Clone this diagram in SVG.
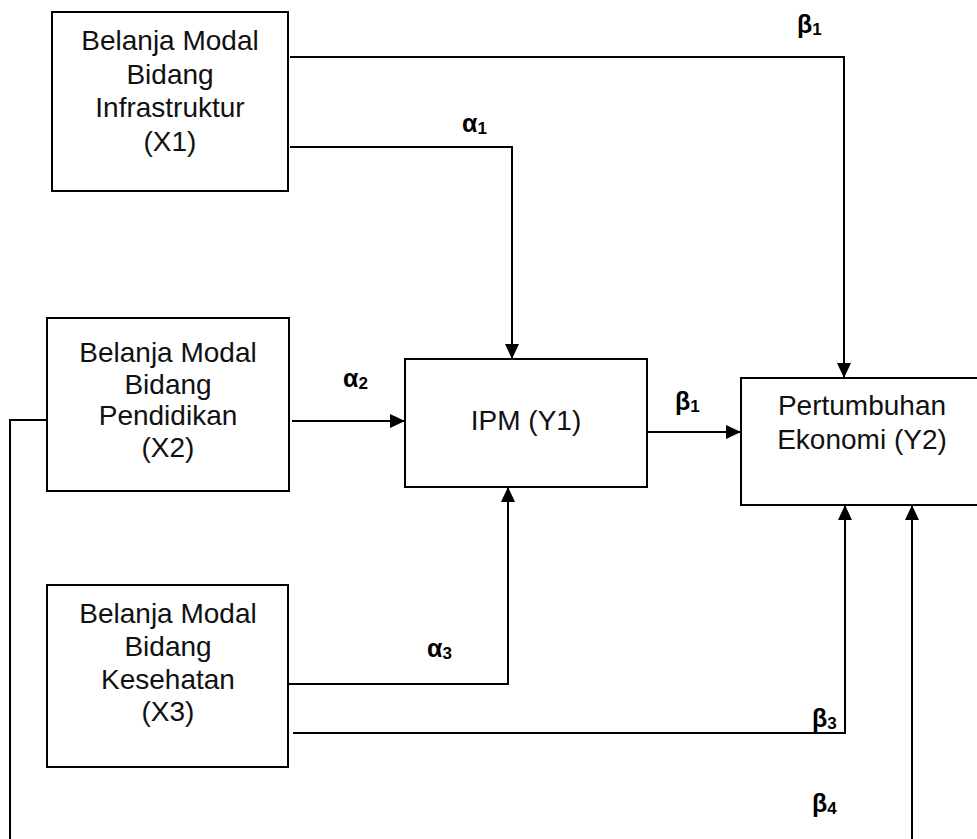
<svg xmlns="http://www.w3.org/2000/svg" width="977" height="839" viewBox="0 0 977 839">
<style>
.box{fill:#fff;stroke:#000;stroke-width:2}
.t{font-family:"Liberation Sans",Arial,sans-serif;font-size:28px;fill:#111;text-anchor:middle}
.c{fill:none;stroke:#000;stroke-width:2}
.lab{font-family:"Liberation Sans",Arial,sans-serif;font-size:25px;font-weight:bold;fill:#000}
.sub{font-size:17px}
</style>
<defs>
<marker id="ah" markerUnits="userSpaceOnUse" markerWidth="15" markerHeight="14" refX="15" refY="7" orient="auto">
<path d="M0,0 L15,7 L0,14 z" fill="#000"/>
</marker>
</defs>
<rect width="977" height="839" fill="#fff"/>
<g id="connectors">
<path class="c" d="M290,57 H844 V378" marker-end="url(#ah)"/>
<path class="c" d="M290,147 H512 V359" marker-end="url(#ah)"/>
<path class="c" d="M292,421 H405" marker-end="url(#ah)"/>
<path class="c" d="M643,432 H741" marker-end="url(#ah)"/>
<path class="c" d="M288,684 H508 V487" marker-end="url(#ah)"/>
<path class="c" d="M293,733 H845 V505" marker-end="url(#ah)"/>
<path class="c" d="M47,420 H10 V845"/>
<path class="c" d="M912,845 V505" marker-end="url(#ah)"/>
</g>
<g id="labels">
<text class="lab" x="797" y="33">β<tspan class="sub" dy="2">1</tspan></text>
<text class="lab" x="462" y="132">α<tspan class="sub" dy="2">1</tspan></text>
<text class="lab" x="343" y="387">α<tspan class="sub" dy="2">2</tspan></text>
<text class="lab" x="675" y="410">β<tspan class="sub" dy="2">1</tspan></text>
<text class="lab" x="427" y="657">α<tspan class="sub" dy="2">3</tspan></text>
<text class="lab" x="812" y="727">β<tspan class="sub" dy="2">3</tspan></text>
<text class="lab" x="812" y="812">β<tspan class="sub" dy="2">4</tspan></text>
</g>
<g id="X1">
<rect class="box" x="52" y="12" width="236" height="179"/>
<text class="t" x="170" y="50">Belanja Modal</text>
<text class="t" x="170" y="84">Bidang</text>
<text class="t" x="170" y="117">Infrastruktur</text>
<text class="t" x="170" y="151">(X1)</text>
</g>
<g id="X2">
<rect class="box" x="47" y="318" width="242" height="173"/>
<text class="t" x="168" y="362">Belanja Modal</text>
<text class="t" x="168" y="394">Bidang</text>
<text class="t" x="168" y="425">Pendidikan</text>
<text class="t" x="168" y="457">(X2)</text>
</g>
<g id="X3">
<rect class="box" x="47" y="585" width="241" height="182"/>
<text class="t" x="168" y="623">Belanja Modal</text>
<text class="t" x="168" y="656">Bidang</text>
<text class="t" x="168" y="689">Kesehatan</text>
<text class="t" x="168" y="721">(X3)</text>
</g>
<g id="Y1">
<rect class="box" x="405" y="359" width="242" height="128"/>
<text class="t" x="526" y="430">IPM (Y1)</text>
</g>
<g id="Y2">
<rect class="box" x="741" y="378" width="250" height="127"/>
<text class="t" x="862" y="415">Pertumbuhan</text>
<text class="t" x="862" y="449">Ekonomi (Y2)</text>
</g>
</svg>
